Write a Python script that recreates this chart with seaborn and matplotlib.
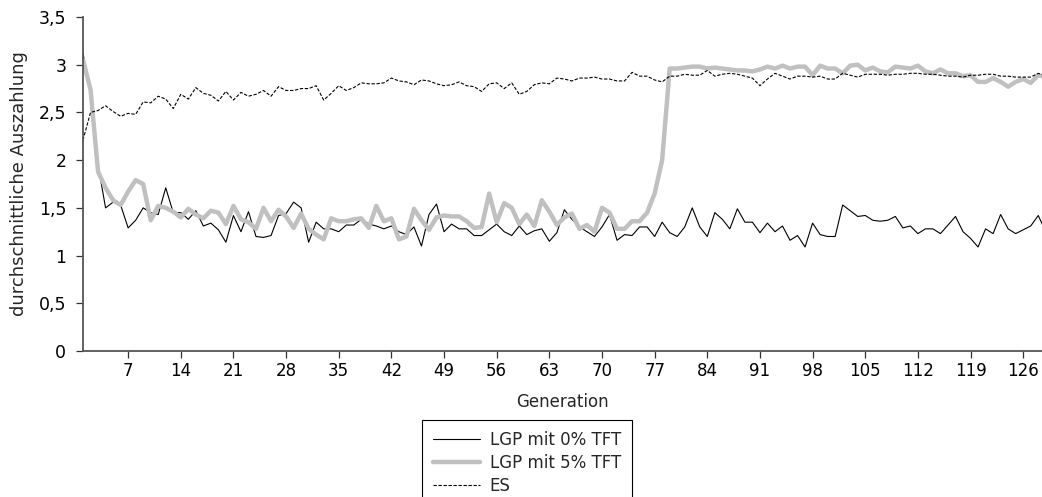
import numpy as np
import pandas as pd
import matplotlib
matplotlib.use("Agg")
import matplotlib.pyplot as plt
import seaborn as sns
from matplotlib.ticker import FuncFormatter

# Average payoff per generation for the three setups
lgp_0 = [
    3.12, 2.70, 1.95, 1.50, 1.56, 1.53, 1.29, 1.37, 1.50, 1.45, 1.43, 1.71, 1.45, 1.45, 1.38, 1.47,
    1.31, 1.34, 1.27, 1.14, 1.42, 1.25, 1.46, 1.20, 1.19, 1.21, 1.42, 1.44, 1.56, 1.50, 1.14, 1.35,
    1.28, 1.28, 1.25, 1.32, 1.32, 1.38, 1.33, 1.31, 1.28, 1.31, 1.25, 1.22, 1.30, 1.10, 1.43, 1.54,
    1.25, 1.33, 1.28, 1.28, 1.21, 1.21, 1.27, 1.33, 1.25, 1.21, 1.31, 1.22, 1.26, 1.28, 1.15, 1.24,
    1.48, 1.38, 1.30, 1.25, 1.20, 1.30, 1.43, 1.16, 1.22, 1.21, 1.30, 1.30, 1.20, 1.35, 1.24, 1.20,
    1.30, 1.50, 1.30, 1.20, 1.45, 1.38, 1.28, 1.49, 1.35, 1.35, 1.24, 1.34, 1.25, 1.31, 1.16, 1.21,
    1.09, 1.34, 1.22, 1.20, 1.20, 1.53, 1.47, 1.41, 1.42, 1.37, 1.36, 1.37, 1.41, 1.29, 1.31, 1.23,
    1.28, 1.28, 1.23, 1.32, 1.41, 1.25, 1.18, 1.09, 1.28, 1.23, 1.43, 1.28, 1.23, 1.27, 1.31, 1.42,
    1.25,
]

lgp_5 = [
    3.05, 2.74, 1.88, 1.71, 1.58, 1.53, 1.67, 1.79, 1.75, 1.37, 1.52, 1.50, 1.46, 1.40, 1.49, 1.43,
    1.39, 1.47, 1.45, 1.33, 1.52, 1.38, 1.35, 1.28, 1.50, 1.36, 1.48, 1.41, 1.29, 1.44, 1.28, 1.22,
    1.17, 1.39, 1.36, 1.36, 1.38, 1.39, 1.29, 1.52, 1.36, 1.39, 1.17, 1.20, 1.49, 1.37, 1.27, 1.40,
    1.42, 1.41, 1.41, 1.36, 1.29, 1.30, 1.65, 1.35, 1.55, 1.50, 1.33, 1.43, 1.31, 1.58, 1.46, 1.32,
    1.40, 1.44, 1.28, 1.32, 1.25, 1.50, 1.45, 1.28, 1.28, 1.36, 1.36, 1.45, 1.65, 2.00, 2.96, 2.96,
    2.97, 2.98, 2.98, 2.96, 2.97, 2.96, 2.95, 2.94, 2.94, 2.93, 2.95, 2.98, 2.96, 2.99, 2.96, 2.98,
    2.98, 2.89, 2.99, 2.96, 2.96, 2.91, 2.99, 3.00, 2.94, 2.97, 2.93, 2.92, 2.98, 2.97, 2.96, 2.99,
    2.93, 2.91, 2.95, 2.91, 2.91, 2.88, 2.89, 2.82, 2.82, 2.86, 2.82, 2.77, 2.82, 2.85, 2.81, 2.89,
    2.87,
]

es = [
    2.21, 2.50, 2.52, 2.57, 2.51, 2.46, 2.49, 2.48, 2.61, 2.60, 2.67, 2.64, 2.54, 2.69, 2.64, 2.76,
    2.70, 2.68, 2.62, 2.72, 2.63, 2.71, 2.67, 2.69, 2.73, 2.67, 2.77, 2.73, 2.73, 2.75, 2.75, 2.78,
    2.63, 2.70, 2.78, 2.73, 2.76, 2.81, 2.80, 2.80, 2.81, 2.86, 2.83, 2.82, 2.79, 2.84, 2.83, 2.80,
    2.78, 2.79, 2.82, 2.78, 2.77, 2.72, 2.80, 2.81, 2.75, 2.81, 2.69, 2.72, 2.79, 2.81, 2.80, 2.86,
    2.85, 2.83, 2.86, 2.86, 2.87, 2.85, 2.85, 2.83, 2.83, 2.92, 2.88, 2.88, 2.84, 2.82, 2.88, 2.88,
    2.90, 2.89, 2.89, 2.94, 2.88, 2.90, 2.91, 2.90, 2.88, 2.86, 2.78, 2.85, 2.91, 2.88, 2.85, 2.88,
    2.88, 2.87, 2.88, 2.85, 2.85, 2.91, 2.89, 2.87, 2.90, 2.90, 2.90, 2.89, 2.90, 2.90, 2.91, 2.91,
    2.90, 2.90, 2.89, 2.88, 2.88, 2.87, 2.89, 2.89, 2.90, 2.90, 2.88, 2.88, 2.87, 2.87, 2.87, 2.91,
    2.88,
]

generations = np.arange(1, len(lgp_0) + 1)
x_ticks = list(range(7, 127, 7))
y_ticks = [0, 0.5, 1, 1.5, 2, 2.5, 3, 3.5]
series_labels = ["LGP mit 0% TFT", "LGP mit 5% TFT", "ES"]

df = pd.DataFrame({
    "Generation": generations,
    series_labels[0]: lgp_0,
    series_labels[1]: lgp_5,
    series_labels[2]: es,
})

sns.set_theme(style="ticks")
plt.rcParams["font.family"] = ["DejaVu Sans"]

fig = plt.figure(figsize=(10.42, 4.97), dpi=100)
ax = fig.add_axes([83 / 1042, 1 - 351 / 497, 1 - 83 / 1042, (351 - 17) / 497])

styles = {
    series_labels[0]: dict(color="black", linewidth=0.8, linestyle="-"),
    series_labels[1]: dict(color="#c0c0c0", linewidth=3.2, linestyle="-"),
    series_labels[2]: dict(color="black", linewidth=0.8, linestyle=(0, (3, 1.5))),
}
for name in series_labels:
    sns.lineplot(data=df, x="Generation", y=name, ax=ax, label=name, **styles[name])

ax.set_xlim(1, 128.5)
ax.set_ylim(0, 3.5)
ax.set_xticks(x_ticks)
ax.set_yticks(y_ticks)
ax.yaxis.set_major_formatter(FuncFormatter(lambda v, _: f"{v:g}".replace(".", ",")))

for side in ["top", "right"]:
    ax.spines[side].set_visible(False)
for side in ["left", "bottom"]:
    ax.spines[side].set_color("#555555")
    ax.spines[side].set_linewidth(1.3)

ax.tick_params(axis="both", direction="out", length=5, width=0.9, color="#333333",
               labelcolor="black")
ax.tick_params(axis="x", pad=3, labelsize=12)
ax.tick_params(axis="y", pad=7, labelsize=12.5)

ax.set_xlabel("Generation", fontsize=12, labelpad=9)
ax.set_ylabel("durchschnittliche Auszahlung", fontsize=13, labelpad=8)

handles, labels = ax.get_legend_handles_labels()
ax.get_legend().remove()
leg = fig.legend(handles, labels, loc="upper left",
                 bbox_to_anchor=(422 / 1042, 1 - 420 / 497), bbox_transform=fig.transFigure,
                 frameon=True, fancybox=False, fontsize=12, handlelength=2.8,
                 handletextpad=0.6, labelspacing=0.3, borderpad=0.65, borderaxespad=0)
leg.get_frame().set_edgecolor("black")
leg.get_frame().set_linewidth(0.8)
leg.get_frame().set_alpha(1)

fig.savefig("out.png", dpi=100)
